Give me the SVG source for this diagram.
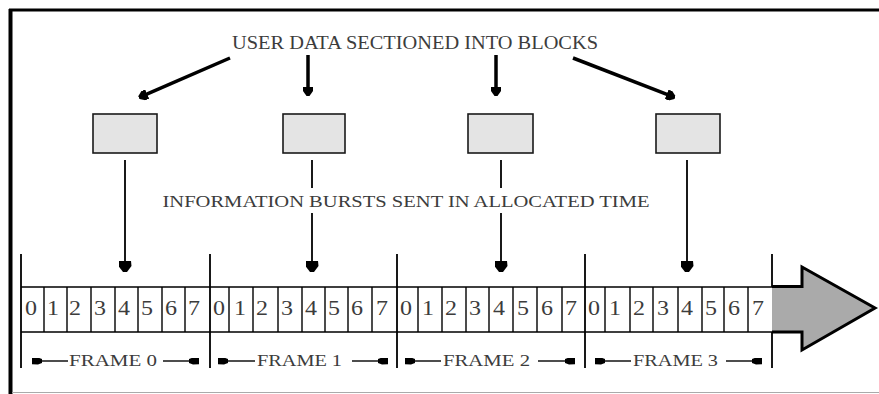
<svg xmlns="http://www.w3.org/2000/svg" width="879" height="394" viewBox="0 0 879 394">
<style>
.t{font-family:"Liberation Serif","Times New Roman",serif;fill:#3c3c3c}
.box{fill:#e4e4e4;stroke:#1a1a1a;stroke-width:1.6}
.thick{stroke:#000;stroke-width:3.5;fill:none}
.thin{stroke:#000;stroke-width:1.8;fill:none}
.lab{stroke:#000;stroke-width:1.4;fill:none}
.cell{stroke:#000;stroke-width:1.4;fill:none}
.div{stroke:#000;stroke-width:1.8}
.dg{font-family:"Liberation Serif","Times New Roman",serif;fill:#3c3c3c;font-size:20px}
</style>
<defs>
<marker id="th" viewBox="0 -5 9 10" markerWidth="9" markerHeight="10" refX="1" refY="0" orient="auto" markerUnits="userSpaceOnUse"><path d="M0,-5 L4,-5 L9,-1.5 L9,1.5 L4,5 L0,5 Z" fill="#000"/></marker>
<marker id="bh" viewBox="0 -6.5 11 13" markerWidth="11" markerHeight="13" refX="1" refY="0" orient="auto" markerUnits="userSpaceOnUse"><path d="M0,-6 L5,-6.5 L11,-2 L11,2 L5,6.5 L0,6 Z" fill="#000"/></marker>
<marker id="sh" viewBox="0 -3.5 10 7" markerWidth="10" markerHeight="7" refX="0" refY="0" orient="auto-start-reverse" markerUnits="userSpaceOnUse"><path d="M0,-2 L4,-3.5 L10,-3.2 L10,3.2 L4,3.5 L0,2 Z" fill="#000"/></marker>
</defs>
<rect x="0" y="0" width="879" height="394" fill="#fff"/>
<g id="border">
<line x1="9" y1="10" x2="879" y2="10" stroke="#000" stroke-width="3"/>
<line x1="10.5" y1="9" x2="10.5" y2="394" stroke="#000" stroke-width="4"/>
<line x1="12" y1="392.5" x2="879" y2="392.5" stroke="#aaa" stroke-width="1.2"/>
</g>
<g id="title"><text class="t" x="415" y="49" font-size="19" text-anchor="middle" textLength="366" lengthAdjust="spacingAndGlyphs">USER DATA SECTIONED INTO BLOCKS</text></g>
<g id="info"><text class="t" x="406" y="207" font-size="17.5" text-anchor="middle" textLength="487" lengthAdjust="spacingAndGlyphs">INFORMATION BURSTS SENT IN ALLOCATED TIME</text></g>
<g id="block1"><rect class="box" x="93" y="114" width="64" height="39"/></g>
<g id="block2"><rect class="box" x="283" y="114" width="62" height="39"/></g>
<g id="block3"><rect class="box" x="468" y="114" width="65" height="39"/></g>
<g id="block4"><rect class="box" x="656" y="114" width="64" height="39"/></g>
<g id="connectors">
<line class="thick" x1="230" y1="58" x2="146.2" y2="94.4" marker-end="url(#th)"/>
<line class="thick" x1="308" y1="55" x2="308" y2="88" marker-end="url(#th)"/>
<line class="thick" x1="496" y1="55" x2="496" y2="88" marker-end="url(#th)"/>
<line class="thick" x1="573" y1="58" x2="667.6" y2="94.7" marker-end="url(#th)"/>
<line class="thin" x1="125" y1="160" x2="125" y2="262" marker-end="url(#bh)"/>
<line class="thin" x1="312" y1="160" x2="312" y2="188"/>
<line class="thin" x1="312" y1="213" x2="312" y2="262" marker-end="url(#bh)"/>
<line class="thin" x1="501" y1="160" x2="501" y2="188"/>
<line class="thin" x1="501" y1="213" x2="501" y2="262" marker-end="url(#bh)"/>
<line class="thin" x1="687" y1="160" x2="687" y2="262" marker-end="url(#bh)"/>
</g>
<g id="timeline">
<path d="M772,286.5 L802,286.5 L802,267 L875,308 L802,350 L802,332 L772,332 Z" fill="#aaaaaa" stroke="none"/>
<path d="M772,286.5 L802,286.5 L802,267 L875,308 L802,350 L802,332 L772,332" fill="none" stroke="#000" stroke-width="3" stroke-linejoin="miter"/>
<path class="cell" d="M21,287 H772 M21,332 H772"/>
<path class="cell" d="M44,287V332 M67,287V332 M91,287V332 M115,287V332 M138,287V332 M162,287V332 M185,287V332 M229,287V332 M253,287V332 M278,287V332 M302,287V332 M325,287V332 M348,287V332 M372,287V332 M418,287V332 M442,287V332 M466,287V332 M489,287V332 M513,287V332 M537,287V332 M562,287V332 M605,287V332 M630,287V332 M653,287V332 M678,287V332 M702,287V332 M724,287V332 M748,287V332"/>
<path class="div" d="M21,254V368 M210,254V368 M397,254V368 M585,254V368 M772,254V287 M772,332V368"/>
</g>
<g id="slots">
<text class="dg" x="31" y="315" text-anchor="middle" textLength="12" lengthAdjust="spacingAndGlyphs">0</text>
<text class="dg" x="53" y="315" text-anchor="middle" textLength="12" lengthAdjust="spacingAndGlyphs">1</text>
<text class="dg" x="75" y="315" text-anchor="middle" textLength="12" lengthAdjust="spacingAndGlyphs">2</text>
<text class="dg" x="100" y="315" text-anchor="middle" textLength="12" lengthAdjust="spacingAndGlyphs">3</text>
<text class="dg" x="124" y="315" text-anchor="middle" textLength="12" lengthAdjust="spacingAndGlyphs">4</text>
<text class="dg" x="147" y="315" text-anchor="middle" textLength="12" lengthAdjust="spacingAndGlyphs">5</text>
<text class="dg" x="171" y="315" text-anchor="middle" textLength="12" lengthAdjust="spacingAndGlyphs">6</text>
<text class="dg" x="194" y="315" text-anchor="middle" textLength="12" lengthAdjust="spacingAndGlyphs">7</text>
<text class="dg" x="219" y="315" text-anchor="middle" textLength="12" lengthAdjust="spacingAndGlyphs">0</text>
<text class="dg" x="240" y="315" text-anchor="middle" textLength="12" lengthAdjust="spacingAndGlyphs">1</text>
<text class="dg" x="262" y="315" text-anchor="middle" textLength="12" lengthAdjust="spacingAndGlyphs">2</text>
<text class="dg" x="287" y="315" text-anchor="middle" textLength="12" lengthAdjust="spacingAndGlyphs">3</text>
<text class="dg" x="311" y="315" text-anchor="middle" textLength="12" lengthAdjust="spacingAndGlyphs">4</text>
<text class="dg" x="334" y="315" text-anchor="middle" textLength="12" lengthAdjust="spacingAndGlyphs">5</text>
<text class="dg" x="357" y="315" text-anchor="middle" textLength="12" lengthAdjust="spacingAndGlyphs">6</text>
<text class="dg" x="382" y="315" text-anchor="middle" textLength="12" lengthAdjust="spacingAndGlyphs">7</text>
<text class="dg" x="406" y="315" text-anchor="middle" textLength="12" lengthAdjust="spacingAndGlyphs">0</text>
<text class="dg" x="428" y="315" text-anchor="middle" textLength="12" lengthAdjust="spacingAndGlyphs">1</text>
<text class="dg" x="451" y="315" text-anchor="middle" textLength="12" lengthAdjust="spacingAndGlyphs">2</text>
<text class="dg" x="475" y="315" text-anchor="middle" textLength="12" lengthAdjust="spacingAndGlyphs">3</text>
<text class="dg" x="499" y="315" text-anchor="middle" textLength="12" lengthAdjust="spacingAndGlyphs">4</text>
<text class="dg" x="523" y="315" text-anchor="middle" textLength="12" lengthAdjust="spacingAndGlyphs">5</text>
<text class="dg" x="547" y="315" text-anchor="middle" textLength="12" lengthAdjust="spacingAndGlyphs">6</text>
<text class="dg" x="571" y="315" text-anchor="middle" textLength="12" lengthAdjust="spacingAndGlyphs">7</text>
<text class="dg" x="594" y="315" text-anchor="middle" textLength="12" lengthAdjust="spacingAndGlyphs">0</text>
<text class="dg" x="615" y="315" text-anchor="middle" textLength="12" lengthAdjust="spacingAndGlyphs">1</text>
<text class="dg" x="639" y="315" text-anchor="middle" textLength="12" lengthAdjust="spacingAndGlyphs">2</text>
<text class="dg" x="663" y="315" text-anchor="middle" textLength="12" lengthAdjust="spacingAndGlyphs">3</text>
<text class="dg" x="687" y="315" text-anchor="middle" textLength="12" lengthAdjust="spacingAndGlyphs">4</text>
<text class="dg" x="711" y="315" text-anchor="middle" textLength="12" lengthAdjust="spacingAndGlyphs">5</text>
<text class="dg" x="734" y="315" text-anchor="middle" textLength="12" lengthAdjust="spacingAndGlyphs">6</text>
<text class="dg" x="758" y="315" text-anchor="middle" textLength="12" lengthAdjust="spacingAndGlyphs">7</text>
</g>
<g id="frame0">
<line class="lab" x1="42" y1="361" x2="68" y2="361" marker-start="url(#sh)"/>
<text class="t" x="69" y="366" font-size="16" textLength="88" lengthAdjust="spacingAndGlyphs">FRAME 0</text>
<line class="lab" x1="163" y1="361" x2="189" y2="361" marker-end="url(#sh)"/>
</g>
<g id="frame1">
<line class="lab" x1="228" y1="361" x2="255" y2="361" marker-start="url(#sh)"/>
<text class="t" x="257" y="366" font-size="16" textLength="85" lengthAdjust="spacingAndGlyphs">FRAME 1</text>
<line class="lab" x1="352" y1="361" x2="378" y2="361" marker-end="url(#sh)"/>
</g>
<g id="frame2">
<line class="lab" x1="415" y1="361" x2="441" y2="361" marker-start="url(#sh)"/>
<text class="t" x="443" y="366" font-size="16" textLength="87" lengthAdjust="spacingAndGlyphs">FRAME 2</text>
<line class="lab" x1="538" y1="361" x2="565" y2="361" marker-end="url(#sh)"/>
</g>
<g id="frame3">
<line class="lab" x1="605" y1="361" x2="631" y2="361" marker-start="url(#sh)"/>
<text class="t" x="633" y="366" font-size="16" textLength="85" lengthAdjust="spacingAndGlyphs">FRAME 3</text>
<line class="lab" x1="726" y1="361" x2="752" y2="361" marker-end="url(#sh)"/>
</g>
</svg>
